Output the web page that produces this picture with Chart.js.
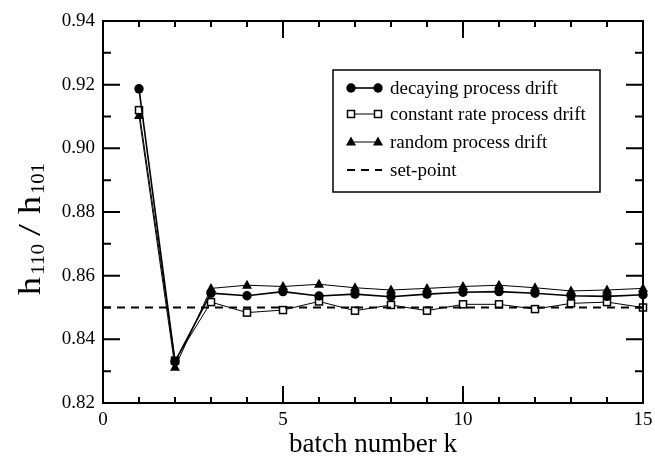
<!DOCTYPE html>
<html>
<head>
<meta charset="utf-8">
<script src="https://cdn.jsdelivr.net/npm/chart.js@4/dist/chart.umd.min.js"></script>
<style>
  html, body { margin: 0; padding: 0; background: #fff; }
  #wrap { width: 655px; height: 458px; position: relative; }
</style>
</head>
<body>
<div id="wrap"><canvas id="c" width="655" height="458"></canvas></div>
<script>
// batch index k
const batches = [1, 2, 3, 4, 5, 6, 7, 8, 9, 10, 11, 12, 13, 14, 15];
// ratio h110 / h101 for each drift scenario
const decaying = [0.9187, 0.8330, 0.8545, 0.8537, 0.8550, 0.8536, 0.8542, 0.8534, 0.8542, 0.8548, 0.8550, 0.8545, 0.8537, 0.8535, 0.8540];
const constantRate = [0.9120, 0.8333, 0.8517, 0.8484, 0.8492, 0.8519, 0.8490, 0.8508, 0.8490, 0.8510, 0.8510, 0.8495, 0.8513, 0.8517, 0.8500];
const randomDrift = [0.9103, 0.8312, 0.8560, 0.8570, 0.8566, 0.8573, 0.8562, 0.8555, 0.8560, 0.8566, 0.8570, 0.8562, 0.8552, 0.8555, 0.8560];
const setPoint = 0.85;
const seriesNames = ['decaying process drift', 'constant rate process drift', 'random process drift', 'set-point'];
const xTicks = [0, 5, 10, 15];
const yTicks = [0.82, 0.84, 0.86, 0.88, 0.90, 0.92, 0.94];

const SERIF = '"Liberation Serif", "Times New Roman", serif';
const toPoints = vals => batches.map((k, i) => ({ x: k, y: vals[i] }));

function drawMarker(ctx, style, x, y) {
  ctx.save();
  ctx.lineWidth = 1.5;
  ctx.strokeStyle = '#000';
  ctx.fillStyle = '#000';
  if (style === 'circle') {
    ctx.beginPath(); ctx.arc(x, y, 4.7, 0, Math.PI * 2); ctx.fill();
  } else if (style === 'rect') {
    ctx.fillStyle = '#fff';
    ctx.fillRect(x - 3.5, y - 3.5, 7, 7);
    ctx.strokeRect(x - 3.5, y - 3.5, 7, 7);
  } else if (style === 'triangle') {
    ctx.beginPath(); ctx.moveTo(x, y - 5.5); ctx.lineTo(x + 5, y + 3.5); ctx.lineTo(x - 5, y + 3.5); ctx.closePath(); ctx.fill();
  }
  ctx.restore();
}

// rotated text piece running from yBottom up to yTop, baseline at xBase
function rotatedPiece(ctx, text, font, yBottom, yTop, xBase) {
  ctx.font = font;
  const w = ctx.measureText(text).width;
  ctx.save();
  ctx.translate(xBase, yBottom);
  ctx.rotate(-Math.PI / 2);
  ctx.scale((yBottom - yTop) / w, 1);
  ctx.textBaseline = 'alphabetic';
  ctx.fillText(text, 0, 0);
  ctx.restore();
}

// frame, inward ticks, y-axis title and legend box
const decorations = {
  id: 'decorations',
  afterDatasetsDraw(chart) {
    const { ctx, chartArea: a, scales: { x, y } } = chart;
    ctx.save();
    ctx.strokeStyle = '#000';
    ctx.lineWidth = 2;
    ctx.strokeRect(a.left, a.top, a.right - a.left, a.bottom - a.top);
    ctx.beginPath();
    for (let k = 0; k <= 15; k++) {
      const px = x.getPixelForValue(k);
      const len = k % 5 === 0 ? 17 : 6;
      ctx.moveTo(px, a.bottom); ctx.lineTo(px, a.bottom - len);
      ctx.moveTo(px, a.top); ctx.lineTo(px, a.top + len);
    }
    for (let i = 0; i <= 12; i++) {
      const v = 0.82 + i * 0.01;
      const py = y.getPixelForValue(v);
      const len = i % 2 === 0 ? 17 : 8;
      ctx.moveTo(a.left, py); ctx.lineTo(a.left + len, py);
      ctx.moveTo(a.right, py); ctx.lineTo(a.right - len, py);
    }
    ctx.stroke();

    // y-axis title: h110 / h101 with subscripts
    ctx.fillStyle = '#000';
    const big = '32px ' + SERIF, small = '19px ' + SERIF;
    rotatedPiece(ctx, 'h', big, 295, 277, 40);
    rotatedPiece(ctx, '110', small, 275, 244, 44);
    rotatedPiece(ctx, '/', big, 236, 224, 40);
    rotatedPiece(ctx, 'h', big, 214, 196, 40);
    rotatedPiece(ctx, '101', small, 194, 163, 44);

    // legend
    const bx = 333, by = 70, bw = 267, bh = 122;
    ctx.fillStyle = '#fff';
    ctx.fillRect(bx, by, bw, bh);
    ctx.lineWidth = 1.5;
    ctx.strokeRect(bx, by, bw, bh);
    const rows = [88, 114, 142, 170];
    const styles = ['circle', 'rect', 'triangle', null];
    ctx.font = '19px ' + SERIF;
    ctx.textBaseline = 'middle';
    rows.forEach((ry, i) => {
      ctx.strokeStyle = '#000';
      if (styles[i]) {
        ctx.lineWidth = i === 0 ? 1.6 : 1;
        ctx.setLineDash([]);
        ctx.beginPath(); ctx.moveTo(351, ry); ctx.lineTo(378, ry); ctx.stroke();
        drawMarker(ctx, styles[i], 351, ry);
        drawMarker(ctx, styles[i], 378, ry);
      } else {
        ctx.lineWidth = 2;
        ctx.setLineDash([8, 6]);
        ctx.beginPath(); ctx.moveTo(347, ry); ctx.lineTo(382, ry); ctx.stroke();
        ctx.setLineDash([]);
      }
      ctx.fillStyle = '#000';
      ctx.fillText(seriesNames[i], 390, ry + 1);
    });
    ctx.restore();
  }
};

const markerPlugin = {
  id: 'markers',
  afterDatasetDraw(chart, args) {
    const ds = chart.data.datasets[args.index];
    if (!ds.marker) return;
    const meta = chart.getDatasetMeta(args.index);
    meta.data.forEach(pt => drawMarker(chart.ctx, ds.marker, pt.x, pt.y));
  }
};

new Chart(document.getElementById('c'), {
  type: 'line',
  data: {
    datasets: [
      { label: seriesNames[3], data: [{ x: 0, y: setPoint }, { x: 15, y: setPoint }], borderColor: '#000', borderWidth: 2, borderDash: [8, 6], pointRadius: 0, fill: false },
      { label: seriesNames[0], data: toPoints(decaying), borderColor: '#000', borderWidth: 1.6, pointRadius: 0, marker: 'circle', fill: false },
      { label: seriesNames[1], data: toPoints(constantRate), borderColor: '#000', borderWidth: 1, pointRadius: 0, marker: 'rect', fill: false },
      { label: seriesNames[2], data: toPoints(randomDrift), borderColor: '#000', borderWidth: 1, pointRadius: 0, marker: 'triangle', fill: false }
    ]
  },
  options: {
    responsive: false,
    animation: false,
    events: [],
    layout: { padding: { top: 21, right: 12, left: 0, bottom: 0 } },
    plugins: { legend: { display: false }, tooltip: { enabled: false } },
    scales: {
      x: {
        type: 'linear', min: 0, max: 15,
        grid: { display: false, drawTicks: false },
        border: { display: false },
        afterBuildTicks: s => { s.ticks = xTicks.map(v => ({ value: v })); },
        afterFit: s => { s.height = 55; s.paddingLeft = 0; s.paddingRight = 0; },
        ticks: { color: '#000', font: { family: SERIF, size: 19 }, padding: 6, maxRotation: 0 },
        title: { display: true, text: 'batch number k', color: '#000', font: { family: SERIF, size: 27, lineHeight: 1.0 }, padding: { top: 0, bottom: 0 } }
      },
      y: {
        type: 'linear', min: 0.82, max: 0.94,
        grid: { display: false, drawTicks: false },
        border: { display: false },
        afterBuildTicks: s => { s.ticks = yTicks.map(v => ({ value: v })); },
        afterFit: s => { s.width = 103; s.paddingTop = 0; s.paddingBottom = 0; },
        ticks: { color: '#000', font: { family: SERIF, size: 19 }, padding: 8, callback: v => v.toFixed(2) }
      }
    }
  },
  plugins: [markerPlugin, decorations]
});
</script>
</body>
</html>
